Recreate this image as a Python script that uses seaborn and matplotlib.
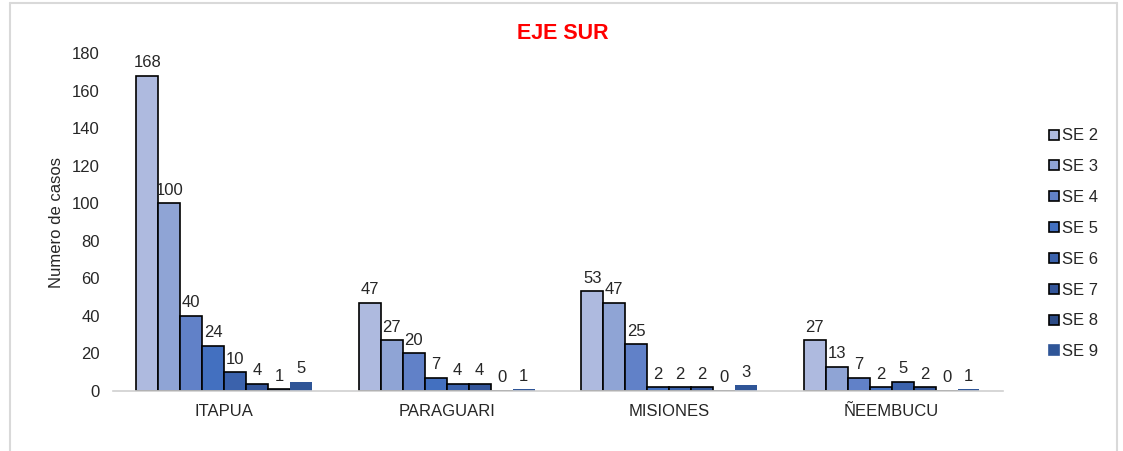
#!/usr/bin/env python3
"""Bar chart of cases per department and epidemiological week (EJE SUR)."""
import pandas as pd
import matplotlib.pyplot as plt
from matplotlib.lines import Line2D
import seaborn as sns

departments = ['ITAPUA', 'PARAGUARI', 'MISIONES', 'ÑEEMBUCU']
weeks = ['SE 2', 'SE 3', 'SE 4', 'SE 5', 'SE 6', 'SE 7', 'SE 8', 'SE 9']
cases_itapua = [168, 100, 40, 24, 10, 4, 1, 5]
cases_paraguari = [47, 27, 20, 7, 4, 4, 0, 1]
cases_misiones = [53, 47, 25, 2, 2, 2, 0, 3]
cases_neembucu = [27, 13, 7, 2, 5, 2, 0, 1]

week_colors = ['#aebadf', '#8fa4d5', '#6181c8', '#4370c0',
               '#3b62ac', '#335599', '#2c4b86', '#2f5597']

rows = []
for dep, vals in zip(departments, [cases_itapua, cases_paraguari,
                                   cases_misiones, cases_neembucu]):
    for wk, v in zip(weeks, vals):
        rows.append({'departamento': dep, 'semana': wk, 'casos': v})
df = pd.DataFrame(rows)

sns.set_style('white')
plt.rcParams['font.family'] = ['Liberation Sans', 'DejaVu Sans']

fig = plt.figure(figsize=(11.23, 4.51), dpi=100)
ax = fig.add_axes([0.1006, 0.133, 0.7924, 0.7495])

sns.barplot(data=df, x='departamento', y='casos', hue='semana',
            order=departments, hue_order=weeks, palette=week_colors,
            width=0.79, gap=0, saturation=1, ax=ax, legend=False,
            edgecolor='black', linewidth=1.2)

# SE 9 bars have no outline
for i, cont in enumerate(ax.containers):
    if weeks[i] == 'SE 9':
        for b in cont:
            b.set_linewidth(0)
    ax.bar_label(cont, labels=[f'{int(v)}' for v in cont.datavalues],
                 padding=4, fontsize=12)

ax.set_ylim(0, 180)
ax.set_yticks(range(0, 181, 20))
ax.set_xlim(-0.5, len(departments) - 0.5)
ax.set_xlabel('')
ax.set_ylabel('Numero de casos', fontsize=12)
ax.yaxis.set_label_coords(-0.055, 0.5)
ax.tick_params(axis='y', labelsize=12, length=0, pad=9.5)
ax.tick_params(axis='x', labelsize=12, length=0, pad=9)

# category separators on the x axis
ax.set_xticks([i - 0.5 for i in range(len(departments) + 1)], minor=True)
ax.tick_params(axis='x', which='minor', length=6, color='#d0d0d0',
               width=1, direction='out')

for s in ['top', 'right', 'left']:
    ax.spines[s].set_visible(False)
ax.spines['bottom'].set_color('#d0d0d0')
ax.spines['bottom'].set_linewidth(1.2)

fig.text(0.501, 0.925, 'EJE SUR', color='#ff0000', fontsize=15.5,
         fontweight='bold', ha='center', va='center')

handles = []
for wk, c in zip(weeks, week_colors):
    handles.append(Line2D([0], [0], marker='s', linestyle='none',
                          markerfacecolor=c,
                          markeredgecolor='black' if wk != 'SE 9' else c,
                          markeredgewidth=1.2, markersize=7.5, label=wk))
fig.legend(handles=handles, loc='upper left', bbox_to_anchor=(0.927, 0.73),
           frameon=False, fontsize=12, handlelength=0.7, handletextpad=0.15,
           labelspacing=0.95, borderaxespad=0)

# light frame around the chart area
fig.add_artist(Line2D([0.009, 0.009], [0, 0.993], color='#d9d9d9',
                      linewidth=1.5, transform=fig.transFigure))
fig.add_artist(Line2D([0.009, 0.995], [0.993, 0.993], color='#d9d9d9',
                      linewidth=1.5, transform=fig.transFigure))
fig.add_artist(Line2D([0.995, 0.995], [0, 0.993], color='#d9d9d9',
                      linewidth=1.5, transform=fig.transFigure))

fig.savefig('out.png', dpi=100)
